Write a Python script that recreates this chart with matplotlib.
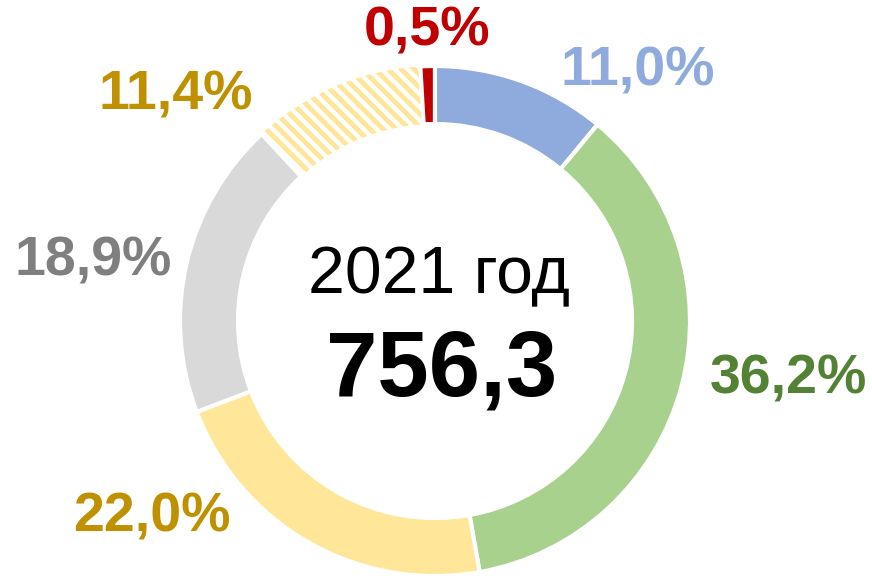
import numpy as np
import matplotlib.pyplot as plt
from matplotlib.collections import LineCollection

plt.rcParams['font.family'] = ['Liberation Sans', 'DejaVu Sans']

# --- данные ---
shares = [11.0, 36.2, 22.0, 18.9, 11.4, 0.5]
labels = ['11,0%', '36,2%', '22,0%', '18,9%', '11,4%', '0,5%']
fill_colors = ['#8FAADC', '#A9D18E', '#FFE699', '#D9D9D9', '#FFFFFF', '#C00000']
label_colors = ['#8FAADC', '#548235', '#BF9000', '#7F7F7F', '#BF9000', '#C00000']
year_text = '2021 год'
total_text = '756,3'

# положение подписей (в пикселях относительно центра кольца)
label_offsets = [(203, 249), (353, -59), (-283, -196), (-342, 59), (-259, 226), (-8, 289)]

W, H = 872, 576
cx, cy, R, ring = 435, 255, 255, 58

fig = plt.figure(figsize=(W / 100, H / 100), dpi=100)
ax = fig.add_axes([0, 0, 1, 1])

wedges, _ = ax.pie(shares, colors=fill_colors, startangle=90, counterclock=False,
                   center=(cx, cy), radius=R,
                   wedgeprops=dict(width=ring, edgecolor='white', linewidth=3))

# pie() сам ставит пределы осей, поэтому задаём их после
ax.set_xlim(0, W)
ax.set_ylim(0, H)
ax.set_aspect('equal')
ax.axis('off')

# заштрихованный сегмент: косые полосы, обрезанные по форме сегмента
hatched = wedges[4]
hatched.set_zorder(0.9)
step = 13
c_vals = np.arange(cx + cy - 2 * R, cx + cy + 2 * R, step)
segs = [[(cx - R, c - (cx - R)), (cx + R, c - (cx + R))] for c in c_vals]
stripes = LineCollection(segs, colors='#FFE699', linewidths=3.5, zorder=0.92)
ax.add_collection(stripes)
stripes.set_clip_path(hatched)

# маленький красный сегмент: как в Excel, он виден чуть шире своей доли
red = wedges[5]
red.set_theta2(red.theta2 + 1.5)
red.set_zorder(0.95)

for txt, col, (dx, dy) in zip(labels, label_colors, label_offsets):
    ax.text(cx + dx, cy + dy, txt, color=col, fontsize=40, fontweight='bold',
            ha='center', va='center')

ax.text(cx + 4, cy + 45, year_text, fontsize=47.5, ha='center', va='center', color='black')
ax.text(cx + 7, cy - 51, total_text, fontsize=66.5, fontweight='bold',
        ha='center', va='center', color='black')

fig.savefig('out.png', dpi=100)
